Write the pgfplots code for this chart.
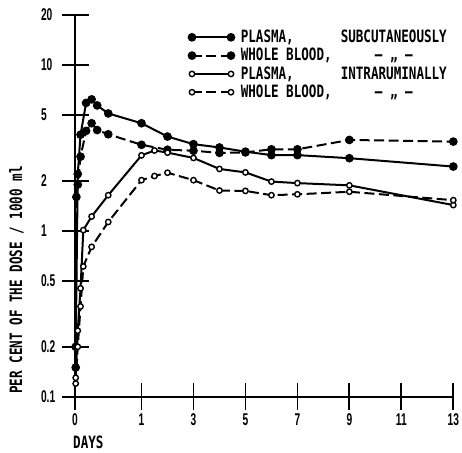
\documentclass[border=0pt]{standalone}
\usepackage{fontspec}
\setmainfont{DejaVu Sans Mono}[FakeStretch=0.74]
\newfontfamily\tickfont{Liberation Sans}[FakeStretch=0.6]
\usepackage{pgfplots}
\pgfplotsset{compat=1.18}
\newcommand{\lf}{\fontsize{17}{20}\selectfont\bfseries}
\newcommand{\tf}{\tickfont\fontsize{17}{20}\selectfont\bfseries}
\begin{document}
\begin{tikzpicture}
\useasboundingbox (0,0) rectangle (462pt,452pt);
\begin{axis}[
  at={(75pt,55.3pt)}, anchor=south west,
  scale only axis, width=378.3pt, height=381.7pt,
  xmin=0, xmax=14.56, ymin=0.1, ymax=20, ymode=log,
  axis x line*=bottom, axis y line*=left,
  axis line style={line width=1.8pt},
  x filter/.expression={x<=1 ? 2.56*x : x+1.56},
  xtick={0,2.56,4.56,6.56,8.56,10.56,12.56,14.56},
  xticklabels={0,1,3,5,7,9,11,13},
  ytick={0.1,0.2,0.5,1,2,5,10,20},
  yticklabels={0.1,0.2,0.5,1,2,5,10,20},
  yminorticks=false, xminorticks=false,
  tick align=center, major tick length=27pt,
  tick style={line width=1.8pt, black},
  /pgf/number format/assume math mode=true,
  tick label style={font=\tf},
  yticklabel style={anchor=west, xshift=-24pt},
  clip=false,
  legend image code/.code={\draw[#1] plot coordinates {(0pt,0pt) (39pt,0pt)};},
  legend style={at={(axis description cs:0.30,0.966)}, anchor=north west, draw=none, fill=none,
    font=\lf, inner sep=0pt, row sep=0pt,
    nodes={inner sep=1.5pt, text height=12.8pt, text depth=2.5pt, anchor=west}},
  legend cell align=left,
]
\addplot[line width=2pt, mark=*, mark size=3.3pt] table {
0.0104 0.2
0.0417 2.2
0.0833 3.8
0.1667 5.9
0.25 6.2
0.3333 5.7
0.5 5.1
1 4.45
2 3.7
3 3.33
4 3.18
5 3.0
6 2.86
7 2.86
9 2.74
13 2.44
};
\addlegendentry{\hspace{5pt}\makebox[100pt][l]{PLASMA,}\makebox[106pt][c]{SUBCUTANEOUSLY}}
\addplot[line width=2pt, dash pattern=on 10pt off 4.5pt, mark=*, mark size=3.3pt, mark options={solid}] table {
0.0104 0.15
0.0208 1.6
0.0417 1.9
0.0833 2.8
0.1667 4.0
0.25 4.45
0.3333 4.05
0.5 3.82
1 3.3
2 3.08
3 3.04
4 2.95
5 2.97
6 3.1
7 3.1
9 3.53
13 3.45
};
\addlegendentry{\hspace{5pt}\makebox[100pt][l]{WHOLE BLOOD,}\makebox[106pt][c]{— „ —}}
\addplot[line width=2pt, mark=*, mark size=2.7pt, mark options={fill=white, line width=1.4pt}] table {
0.0104 0.13
0.0417 0.25
0.0833 0.45
0.125 1.01
0.25 1.22
0.5 1.64
1 2.85
1.5 3.05
2 2.96
3 2.75
4 2.36
5 2.25
6 1.98
7 1.94
9 1.88
13 1.43
};
\addlegendentry{\hspace{5pt}\makebox[100pt][l]{PLASMA,}\makebox[106pt][c]{INTRARUMINALLY}}
\addplot[line width=2pt, dash pattern=on 10pt off 4.5pt, mark=*, mark size=2.7pt, mark options={solid, fill=white, line width=1.4pt}] table {
0.0104 0.12
0.0417 0.2
0.0833 0.35
0.125 0.61
0.25 0.80
0.5 1.13
1 2.02
1.5 2.14
2 2.24
3 2.02
4 1.75
5 1.74
6 1.64
7 1.66
9 1.72
13 1.53
};
\addlegendentry{\hspace{5pt}\makebox[100pt][l]{WHOLE BLOOD,}\makebox[106pt][c]{— „ —}}
\draw[line width=1.8pt] (axis cs:-0.46,0.1) -- (axis cs:0,0.1);
\end{axis}
\node[rotate=90, anchor=base, font=\lf] at (22pt,172pt) {PER CENT OF THE DOSE / 1000 ml};
\node[anchor=base west, font=\lf, inner sep=0pt] at (73pt,3.5pt) {DAYS};
\end{tikzpicture}
\end{document}
